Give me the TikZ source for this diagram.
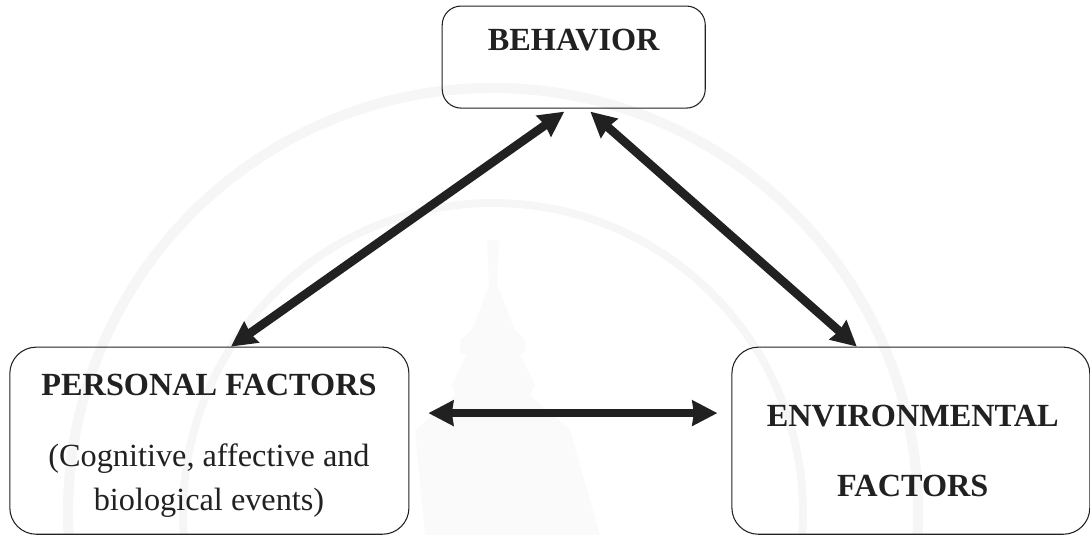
\documentclass[tikz,border=0pt]{standalone}
\usepackage{fontspec}
\setmainfont{Liberation Serif}
\usetikzlibrary{arrows.meta}
\definecolor{inkdark}{gray}{0.13}
\definecolor{watermark}{gray}{0.965}
\definecolor{watermarklight}{gray}{0.98}
\tikzset{
  factorbox/.style={shape=rectangle,draw=inkdark,rounded corners=0.7cm,line width=0.8pt},
  boldlabel/.style={font=\fontsize{24.3pt}{28pt}\selectfont\bfseries,text=inkdark,align=center},
  plainlabel/.style={font=\fontsize{24.3pt}{28pt}\selectfont,text=inkdark,align=center},
  twoway/.style={{Stealth[length=0.66cm,width=0.66cm,inset=0.04cm]}-{Stealth[length=0.66cm,width=0.66cm,inset=0.04cm]},line width=0.23cm,color=inkdark}
}
\begin{document}
\begin{tikzpicture}[x=1cm,y=-1cm]
\useasboundingbox (0,0) rectangle (28.84,14.155);
% faded seal behind the figure
\begin{scope}[x=0.02646cm,y=-0.02646cm]
\draw[watermark,line width=0.27cm] (493,513) circle (425);
\draw[watermark,line width=0.21cm] (493,513) circle (310);
\fill[watermarklight] (487,240) -- (499,240) -- (497,285) -- (515,330) -- (525,340) -- (525,352) -- (520,355) -- (535,385) -- (530,395) -- (570,430) -- (600,535) -- (425,535) -- (415,430) -- (455,395) -- (452,385) -- (466,355) -- (460,352) -- (460,340) -- (472,330) -- (489,285) -- cycle;
\end{scope}

\node[factorbox,rounded corners=0.5cm,minimum width=6.96cm,minimum height=2.7cm] (behavior) at (15.18,1.51) {};
\node[boldlabel] (behaviorlabel) at (15.18,1.06) {BEHAVIOR};

\node[factorbox,minimum width=10.56cm,minimum height=4.95cm] (personal) at (5.54,11.66) {};
\node[boldlabel] (personallabel) at (5.53,10.19) {PERSONAL FACTORS};
\node[plainlabel] (personaltext) at (5.53,12.72) {(Cognitive, affective and\\[5pt]biological events)};

\node[factorbox,minimum width=9.47cm,minimum height=4.95cm] (environment) at (24.1,11.66) {};
\node[boldlabel] (environmentlabel) at (24.15,11.93) {ENVIRONMENTAL\\[24.5pt]FACTORS};

\draw[twoway] ([xshift=-0.25cm,yshift=-0.08cm]behavior.south) to ([xshift=0.57cm]personal.north);
\draw[twoway] ([xshift=0.44cm,yshift=-0.08cm]behavior.south) to ([xshift=-1.43cm]environment.north);
\draw[twoway] ([xshift=0.5cm,yshift=0.73cm]personal.east) to ([xshift=-0.37cm,yshift=0.73cm]environment.west);
\end{tikzpicture}
\end{document}
